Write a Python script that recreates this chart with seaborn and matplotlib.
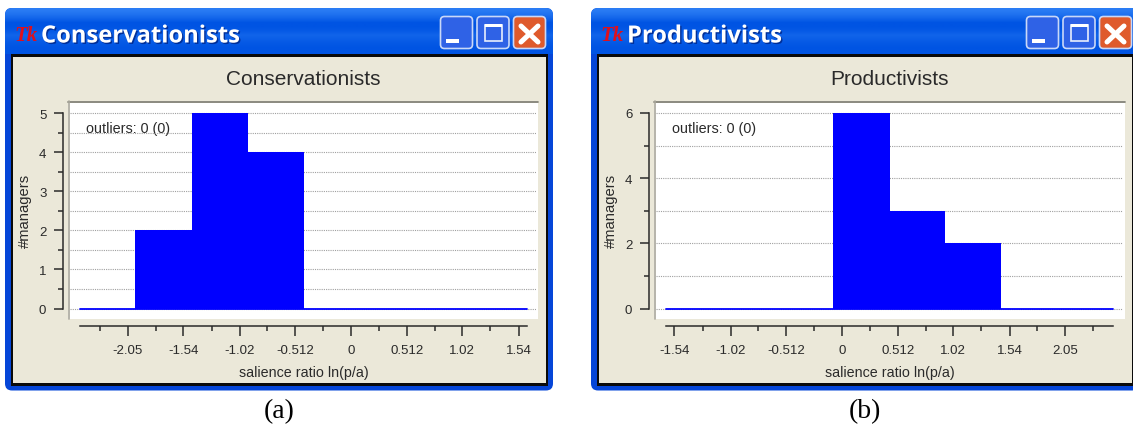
import numpy as np
import seaborn as sns
import matplotlib
matplotlib.use('Agg')
import matplotlib.pyplot as plt
from matplotlib.patches import FancyBboxPatch, Rectangle
import matplotlib.patheffects as pe

# values
cons_edges = [-1.981, -1.462, -0.947, -0.432]
cons_counts = [2, 5, 4]
cons_xticks = [-2.05, -1.54, -1.02, -0.512, 0, 0.512, 1.02, 1.54]
cons_xminor = [-2.31, -1.79, -1.28, -0.77, -0.26, 0.26, 0.77, 1.28]
cons_xlabels = ['-2.05', '-1.54', '-1.02', '-0.512', '0', '0.512', '1.02', '1.54']
cons_yticks = [0, 1, 2, 3, 4, 5]
cons_yminor = [0.5, 1.5, 2.5, 3.5, 4.5]
cons_baseline = [-2.491, 1.618]

prod_edges = [-0.083, 0.437, 0.947, 1.466]
prod_counts = [6, 3, 2]
prod_xticks = [-1.54, -1.02, -0.512, 0, 0.512, 1.02, 1.54, 2.05]
prod_xminor = [-1.28, -0.77, -0.26, 0.26, 0.77, 1.28, 1.79, 2.31]
prod_xlabels = ['-1.54', '-1.02', '-0.512', '0', '0.512', '1.02', '1.54', '2.05']
prod_yticks = [0, 2, 4, 6]
prod_yminor = [1, 3, 5]
prod_baseline = [-1.618, 2.491]

W, H = 1133, 427
PX = 72 / 100  # points per pixel at dpi 100
BLUE = '#0000ff'
BEIGE = '#ebe8d9'
INK = '#2a2a2a'

sns.set_theme(style='white')
plt.rcParams['font.family'] = ['Liberation Sans', 'DejaVu Sans']
fig = plt.figure(figsize=(W / 100, H / 100), dpi=100, facecolor='white')

# full-figure layer in pixel coordinates for the window chrome
bg = fig.add_axes([0, 0, 1, 1], zorder=0)
bg.set_xlim(0, W)
bg.set_ylim(H, 0)
bg.axis('off')


def button(x, fill, kind):
    bg.add_patch(FancyBboxPatch((x + 0.5, 17.5), 32, 32, boxstyle='round,pad=0,rounding_size=4',
                                fc=fill, ec='#c9d8f8', lw=1.2, zorder=4))
    if kind == 'min':
        bg.add_patch(Rectangle((x + 6, 39.5), 13, 4.5, fc='white', ec='none', zorder=5))
    elif kind == 'max':
        bg.add_patch(Rectangle((x + 8, 25.5), 17, 16.5, fc='none', ec='#e8eefc', lw=1.2, zorder=5))
        bg.add_patch(Rectangle((x + 8, 25), 17, 3.2, fc='white', ec='none', zorder=5))
    else:
        bg.plot([x + 8, x + 25], [27, 43], color='white', lw=3.6, zorder=5, solid_capstyle='round')
        bg.plot([x + 8, x + 25], [43, 27], color='white', lw=3.6, zorder=5, solid_capstyle='round')


def window(x0, x1, title):
    # frame
    frame = FancyBboxPatch((x0, 9), x1 - x0, 382.5, boxstyle='round,pad=0,rounding_size=7',
                           fc='#0546d8', ec='none', zorder=1)
    bg.add_patch(frame)
    grad = np.array([0.0, 0.25, 0.6, 1.0, 1.0, 0.85, 0.6, 0.75, 0.9, 1.0, 1.0]).reshape(-1, 1)
    top = np.array(matplotlib.colors.to_rgb('#2a7cf4'))
    low = np.array(matplotlib.colors.to_rgb('#0054e3'))
    img = (top + (low - top) * grad[..., None]).clip(0, 1)
    im = bg.imshow(img, extent=(x0, x1, 55, 9), aspect='auto', zorder=2, interpolation='bilinear')
    im.set_clip_path(frame)
    bg.set_xlim(0, W)
    bg.set_ylim(H, 0)
    # black inner border + beige client area
    bg.add_patch(Rectangle((x0 + 5.5, 55), x1 - x0 - 11, 331.5, fc='#0a0a0a', ec='none', zorder=2))
    bg.add_patch(Rectangle((x0 + 8, 57.5), x1 - x0 - 15.5, 326, fc=BEIGE, ec='none', zorder=3))
    # title bar
    bg.text(x0 + 9, 36, 'Tk', color='#e0101c', fontsize=15, family='Liberation Serif', style='italic',
            fontweight='bold', va='center', ha='left', zorder=5)
    bg.text(x0 + 36, 37.5, title, color='white', fontsize=17.1, family='Open Sans', fontweight='bold',
            va='center', ha='left', zorder=5,
            path_effects=[pe.withSimplePatchShadow(offset=(1, -1), shadow_rgbFace='#002a90', alpha=0.9)])


def panel(x0, x1, ax_l, ax_r, title, caption, edges, counts, xticks, xminor, xlabels,
          yticks, yminor, baseline, zero_px, unit_px):
    window(x0, x1, title)
    btn = x0 + 435
    button(btn, '#2f62e6', 'min')
    button(btn + 36.5, '#2f62e6', 'max')
    button(btn + 73, '#df5a2c', 'close')

    # white plot card with its grey top/left edge
    bg.add_patch(Rectangle((ax_l - 2, 102), ax_r - ax_l + 4, 218, fc='white', ec='none', zorder=3))
    bg.plot([ax_l - 2, ax_r + 2], [102.5, 102.5], color='#77756a', lw=1.2, zorder=4)
    bg.plot([ax_l - 1.5, ax_l - 1.5], [102, 320], color='#a9a79c', lw=1.2, zorder=4)

    top_px, bot_px = 103, 319
    ax = fig.add_axes([ax_l / W, 1 - bot_px / H, (ax_r - ax_l) / W, (bot_px - top_px) / H],
                      zorder=2, facecolor='none')
    sns.histplot(x=edges[:-1], weights=counts, bins=edges, color=BLUE, edgecolor=BLUE,
                 linewidth=0, alpha=1, ax=ax, zorder=3)
    sns.lineplot(x=baseline, y=[0, 0], color=BLUE, lw=1.3, ax=ax, zorder=4)

    # pixel anchors of the original axes: 55.7 px per 0.512 on x
    scale = 0.512 / 55.7
    ax.set_xlim((ax_l - zero_px) * scale, (ax_r - zero_px) * scale)
    ax.set_ylim((309.5 - bot_px) / unit_px, (309.5 - top_px) / unit_px)

    ax.set_xticks(xticks, labels=xlabels)
    ax.set_xticks(xminor, minor=True)
    ax.set_yticks(yticks)
    ax.set_yticks(yminor, minor=True)
    ax.tick_params(axis='x', which='major', bottom=True, length=10 * PX, width=1.1, color=INK,
                   labelsize=9.5, labelcolor=INK, pad=6)
    ax.tick_params(axis='x', which='minor', bottom=True, length=5 * PX, width=1.1, color=INK)
    ax.tick_params(axis='y', which='major', left=True, length=9 * PX, width=1.1, color=INK,
                   labelsize=9.5, labelcolor=INK, pad=5.5)
    ax.tick_params(axis='y', which='minor', left=True, length=5 * PX, width=1.1, color=INK)

    ax.set_axisbelow(True)
    ax.grid(False)
    ax.grid(True, axis='y', which='both', color='#a0a0a0', lw=0.8, ls=(0, (1, 1)))

    sns.despine(ax=ax, top=True, right=True)
    ax.spines['left'].set_position(('outward', 7 * PX))
    ax.spines['bottom'].set_position(('outward', 8 * PX))
    ax.spines['left'].set_bounds(yticks[0], yticks[-1])
    ax.spines['bottom'].set_bounds(baseline[0], baseline[1])
    for s in ('left', 'bottom'):
        ax.spines[s].set_color(INK)
        ax.spines[s].set_linewidth(1.1)

    ax.set_xlabel('salience ratio ln(p/a)', fontsize=10.3, color=INK)
    ax.set_ylabel('#managers', fontsize=10.6, color=INK)
    ax.xaxis.set_label_coords(((x0 + 299) - ax_l) / (ax_r - ax_l), 1 - (366.5 - top_px) / (bot_px - top_px))
    ax.yaxis.set_label_coords((x0 + 27 - ax_l) / (ax_r - ax_l), 1 - (211 - top_px) / (bot_px - top_px))

    bg.text(x0 + 298.5, 79.5, title, fontsize=15, color=INK, ha='center', va='center', zorder=5)
    bg.text(x0 + 81, 129.5, 'outliers: 0 (0)', fontsize=10.4, color=INK, ha='left', va='center', zorder=5)
    bg.text(x0 + 274, 412, caption, fontsize=20, family='Liberation Serif', color='black',
            ha='center', va='center', zorder=5)
    return ax


panel(5, 553, 70, 536, 'Conservationists', '(a)', cons_edges, cons_counts, cons_xticks, cons_xminor,
      cons_xlabels, cons_yticks, cons_yminor, cons_baseline, 351, 39.04)
panel(591, 1139, 656, 1123, 'Productivists', '(b)', prod_edges, prod_counts, prod_xticks, prod_xminor,
      prod_xlabels, prod_yticks, prod_yminor, prod_baseline, 842, 32.6)

fig.savefig('out.png', dpi=100)
